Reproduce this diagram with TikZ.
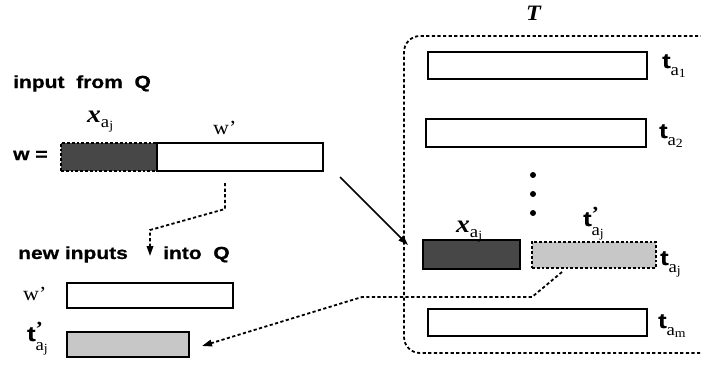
\documentclass[tikz,border=0pt]{standalone}
\usepackage{fontspec}
\usetikzlibrary{arrows.meta,calc}
\newfontfamily\hv[FakeStretch=1.2, BoldFeatures={FakeBold=0.8}]{Liberation Sans}
\newfontfamily\tm[FakeStretch=1.1]{Liberation Serif}
\newcommand\subidx[1]{{\tm\fontsize{17}{17}\selectfont a\raisebox{-0.35ex}{\fontsize{12.5}{12.5}\selectfont #1}}}
\newcommand\tlab[1]{{\hv\bfseries\fontsize{21}{21}\selectfont t}\raisebox{-7pt}{\subidx{#1}}}
\newcommand\tplab{{\hv\bfseries\fontsize{21}{21}\selectfont t}\rlap{\raisebox{6pt}{\tm\bfseries\fontsize{20}{20}\selectfont ’}}\raisebox{-9pt}{\subidx{j}}}
\newcommand\xlab{{\tm\bfseries\itshape\fontsize{25}{25}\selectfont x}\raisebox{-5pt}{\subidx{j}}}
\tikzset{
  box/.style={draw, line width=1.9pt, inner sep=0pt, fill=white},
  darkbox/.style={box, fill=black!72},
  lightbox/.style={box, fill=black!22},
  dotborder/.style={dash pattern=on 2.8pt off 2pt},
  dotline/.style={line width=1.8pt, dash pattern=on 3.2pt off 2.4pt},
  tip/.style={-{Triangle[length=10pt,width=6.5pt]}},
  lab/.style={anchor=base west, inner sep=0pt},
  sanslab/.style={lab, font=\hv\bfseries\fontsize{17.5}{17.5}\selectfont},
  dot/.style={circle, fill=black, inner sep=0pt, minimum size=6pt}
}
\begin{document}
\begin{tikzpicture}[x=1pt,y=-1pt]
\useasboundingbox (0,0) rectangle (701,373);
% left part
\node[sanslab] (inq) at (13,88) {input\ \ from\ \ Q};
\node[sanslab] (weq) at (13,160) {w =};
\node[darkbox, dotborder, minimum width=96pt, minimum height=28pt] (xl) at (109,157) {};
\node[box, minimum width=166pt, minimum height=28pt] (wl) at (240,157) {};
\node[lab] (xll) at (87,122) {\xlab};
\node[lab, font=\tm\fontsize{20}{20}\selectfont] (wpl) at (213,134) {w’};
\node[sanslab] (newin) at (18,259) {new inputs};
\node[sanslab] (into) at (163,259) {into\ \ Q};
\node[lab, font=\tm\fontsize{20}{20}\selectfont] (wpl2) at (23,300) {w’};
\node[box, minimum width=166pt, minimum height=25pt] (wp) at (150,295.5) {};
\node[lab] (tpl) at (27,341) {\tplab};
\node[lightbox, minimum width=122pt, minimum height=25pt] (tp) at (128,344.5) {};
% right part
\node[lab, font=\tm\bfseries\itshape\fontsize{22}{22}\selectfont] (Tl) at (526,20) {T};
\draw[dotline, rounded corners=16pt] (715,36) -- (404,36) -- (404,353) -- (715,353);
\node[box, minimum width=219pt, minimum height=27pt] (r1) at (537.5,65.5) {};
\node[lab] (r1l) at (662,68) {\tlab{1}};
\node[box, minimum width=220pt, minimum height=28pt] (r2) at (536,133) {};
\node[lab] (r2l) at (659,138) {\tlab{2}};
\node[dot] (d1) at (533,175) {};
\node[dot] (d2) at (533,194) {};
\node[dot] (d3) at (533,213) {};
\node[darkbox, minimum width=97pt, minimum height=29pt] (rx) at (471.5,254.5) {};
\node[lab] (rxl) at (456,232) {\xlab};
\node[lightbox, dotborder, minimum width=124pt, minimum height=26pt] (rt) at (594,255) {};
\node[lab] (rtl) at (583,226) {\tplab};
\node[lab] (rjl) at (660,265) {\tlab{j}};
\node[box, minimum width=219pt, minimum height=27pt] (rm) at (537.5,322.5) {};
\node[lab] (rml) at (658,328) {\tlab{m}};
% connectors
\coordinate (c1) at (225,183);
\coordinate (c2) at (225,209);
\coordinate (c3) at (150,230);
\coordinate (c4) at (150,256);
\draw[dotline, tip] (c1) -- (c2) -- (c3) -- (c4);
\coordinate (a1) at (340,177);
\coordinate (a2) at (408,245);
\draw[line width=1.7pt, tip] (a1) -- (a2);
\coordinate (b1) at (562,272);
\coordinate (b2) at (532,297);
\coordinate (b3) at (362,297);
\coordinate (b4) at (202,346);
\draw[dotline, tip] (b1) -- (b2) -- (b3) -- (b4);
\end{tikzpicture}
\end{document}
